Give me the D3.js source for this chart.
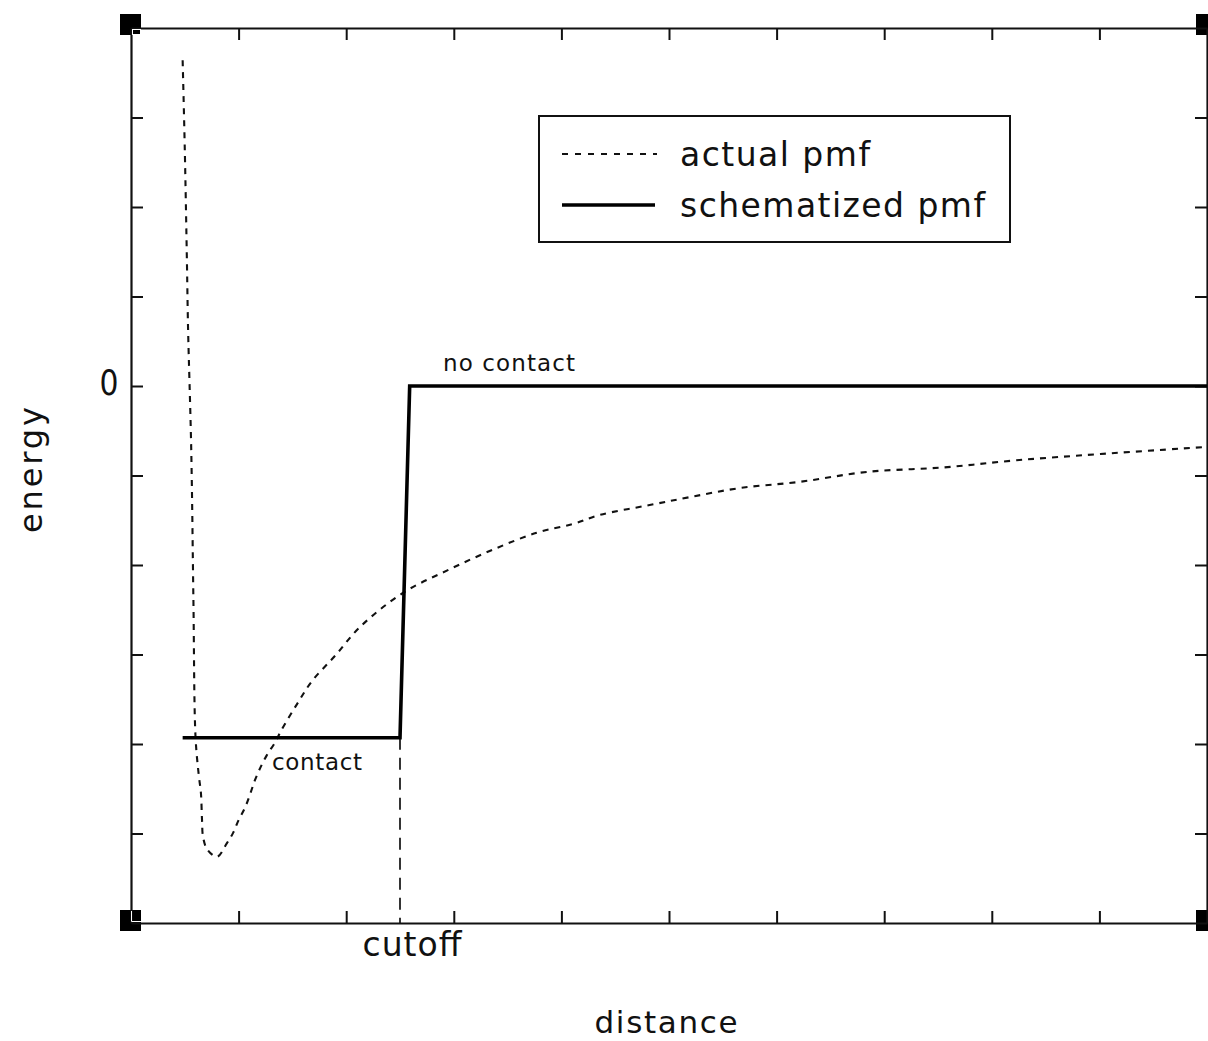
<!DOCTYPE html>
<html>
<head>
<meta charset="utf-8">
<script src="https://cdn.jsdelivr.net/npm/d3@7"></script>
<style>
  body { margin: 0; background: #fff; overflow: hidden; }
  text { font-family: "DejaVu Sans", sans-serif; fill: #111; }
</style>
</head>
<body>
<div id="chart"></div>
<script>
// actual pmf (distance, energy)
var actualX = [0.48, 0.50, 0.52, 0.53, 0.56, 0.58, 0.60, 0.63, 0.65, 0.66, 0.67, 0.71, 0.80, 0.89, 0.95, 1.00, 1.06, 1.11, 1.15, 1.20, 1.26, 1.34, 1.40, 1.54, 1.68, 1.90, 2.13, 2.53, 2.94, 3.36, 3.77, 4.11, 4.36, 4.82, 5.20, 5.66, 6.22, 6.84, 7.55, 8.23, 9.01, 10.0];
var actualY = [3.64, 2.64, 1.37, 0.66, -0.72, -2.39, -3.93, -4.35, -4.55, -4.85, -5.04, -5.18, -5.26, -5.11, -4.99, -4.85, -4.71, -4.55, -4.41, -4.27, -4.13, -3.98, -3.84, -3.56, -3.30, -3.01, -2.69, -2.31, -2.06, -1.83, -1.64, -1.54, -1.44, -1.33, -1.24, -1.14, -1.07, -0.96, -0.91, -0.83, -0.76, -0.68];

// schematized pmf: step at the cutoff
var schemX = [0.48, 2.50, 2.59, 10.0];
var schemY = [-3.93, -3.93, 0, 0];

var cutoff = 2.5;
var tickVals = [1, 2, 3, 4, 5, 6, 7, 8, 9];
var yTickVals = [3, 2, 1, 0, -1, -2, -3, -4, -5];
var seriesNames = ["actual pmf", "schematized pmf"];

var W = 1208, H = 1041;
var pLeft = 131, pRight = 1207, pTop = 28, pBottom = 923;

var svg = d3.select("#chart").append("svg")
  .attr("width", W)
  .attr("height", H);

var x = d3.scaleLinear().domain([0, 10]).range([pLeft, pRight]);
var y = d3.scaleLinear().domain([-6, 4]).range([pBottom, pTop]);

// corner squares
var corners = [[pLeft, pTop, -14], [pRight, pTop, -14], [pLeft, pBottom, -13], [pRight, pBottom, -13]];
corners.forEach(function(c) {
  svg.append("rect")
    .attr("x", c[0] - 11).attr("y", c[1] + c[2])
    .attr("width", 21).attr("height", 21)
    .attr("fill", "#000");
});

// axes with inward ticks, no labels
function styleAxis(g) {
  g.selectAll("path").attr("stroke", "#111").attr("stroke-width", 2.2);
  g.selectAll("line").attr("stroke", "#111").attr("stroke-width", 2);
  g.selectAll("text").remove();
}
svg.append("g").attr("transform", "translate(0," + pBottom + ")")
  .call(d3.axisBottom(x).tickValues(tickVals).tickSizeInner(-12).tickSizeOuter(0).tickFormat(""))
  .call(styleAxis);
svg.append("g").attr("transform", "translate(0," + pTop + ")")
  .call(d3.axisTop(x).tickValues(tickVals).tickSizeInner(-12).tickSizeOuter(0).tickFormat(""))
  .call(styleAxis);
svg.append("g").attr("transform", "translate(" + pLeft + ",0)")
  .call(d3.axisLeft(y).tickValues(yTickVals).tickSizeInner(-12).tickSizeOuter(0).tickFormat(""))
  .call(styleAxis);
svg.append("g").attr("transform", "translate(" + pRight + ",0)")
  .call(d3.axisRight(y).tickValues(yTickVals).tickSizeInner(-12).tickSizeOuter(0).tickFormat(""))
  .call(styleAxis);

// little white marks inside the corner squares
svg.append("rect").attr("x", pLeft + 1.5).attr("y", pTop + 1.5).attr("width", 8).attr("height", 5)
  .attr("fill", "none").attr("stroke", "#fff").attr("stroke-width", 1);
svg.append("path").attr("d", "M" + (pLeft + 0.5) + "," + (pBottom - 12) + "V" + (pBottom - 1.5) + "H" + (pLeft + 10))
  .attr("fill", "none").attr("stroke", "#fff").attr("stroke-width", 1);

var line = d3.line().x(function(d) { return x(d[0]); }).y(function(d) { return y(d[1]); });

// cutoff marker
svg.append("path")
  .attr("d", line([[cutoff, schemY[0]], [cutoff, -6]]))
  .attr("fill", "none").attr("stroke", "#111").attr("stroke-width", 1.7)
  .attr("stroke-dasharray", "12,8");

// actual pmf
var actual = actualX.map(function(v, i) { return [v, actualY[i]]; });
svg.append("path")
  .attr("d", d3.line().curve(d3.curveCatmullRom).x(function(d) { return x(d[0]); }).y(function(d) { return y(d[1]); })(actual))
  .attr("fill", "none").attr("stroke", "#111").attr("stroke-width", 2.1)
  .attr("stroke-dasharray", "6,6");

// schematized pmf
var schem = schemX.map(function(v, i) { return [v, schemY[i]]; });
svg.append("path")
  .attr("d", line(schem))
  .attr("fill", "none").attr("stroke", "#000").attr("stroke-width", 3.6)
  .attr("stroke-linejoin", "miter");

// labels
svg.append("text").attr("x", 109).attr("y", 395)
  .attr("text-anchor", "middle").style("font-size", "36px")
  .attr("textLength", 19).attr("lengthAdjust", "spacingAndGlyphs").text("0");

svg.append("text")
  .attr("transform", "translate(42,470) rotate(-90)")
  .attr("text-anchor", "middle").style("font-size", "32px")
  .attr("textLength", 126).attr("lengthAdjust", "spacing")
  .text("energy");

svg.append("text").attr("x", 666).attr("y", 1033)
  .attr("text-anchor", "middle").style("font-size", "31px")
  .attr("textLength", 143).attr("lengthAdjust", "spacing")
  .text("distance");

svg.append("text").attr("x", 412).attr("y", 956)
  .attr("text-anchor", "middle").style("font-size", "33px")
  .attr("textLength", 99).attr("lengthAdjust", "spacing")
  .text("cutoff");

svg.append("text").attr("x", 509).attr("y", 371)
  .attr("text-anchor", "middle").style("font-size", "23px")
  .attr("textLength", 132).attr("lengthAdjust", "spacing")
  .text("no contact");

svg.append("text").attr("x", 317).attr("y", 770)
  .attr("text-anchor", "middle").style("font-size", "23px")
  .attr("textLength", 90).attr("lengthAdjust", "spacing")
  .text("contact");

// legend
var lg = svg.append("g");
lg.append("rect").attr("x", 539).attr("y", 116).attr("width", 471).attr("height", 126)
  .attr("fill", "#fff").attr("stroke", "#111").attr("stroke-width", 2);
lg.append("line").attr("x1", 562).attr("x2", 657).attr("y1", 154).attr("y2", 154)
  .attr("stroke", "#111").attr("stroke-width", 2).attr("stroke-dasharray", "6,7");
lg.append("line").attr("x1", 562).attr("x2", 655).attr("y1", 205).attr("y2", 205)
  .attr("stroke", "#000").attr("stroke-width", 3.6);
lg.append("text").attr("x", 680).attr("y", 166).style("font-size", "33px")
  .attr("textLength", 190).attr("lengthAdjust", "spacing").text(seriesNames[0]);
lg.append("text").attr("x", 680).attr("y", 217).style("font-size", "33px")
  .attr("textLength", 305).attr("lengthAdjust", "spacing").text(seriesNames[1]);
</script>
</body>
</html>
